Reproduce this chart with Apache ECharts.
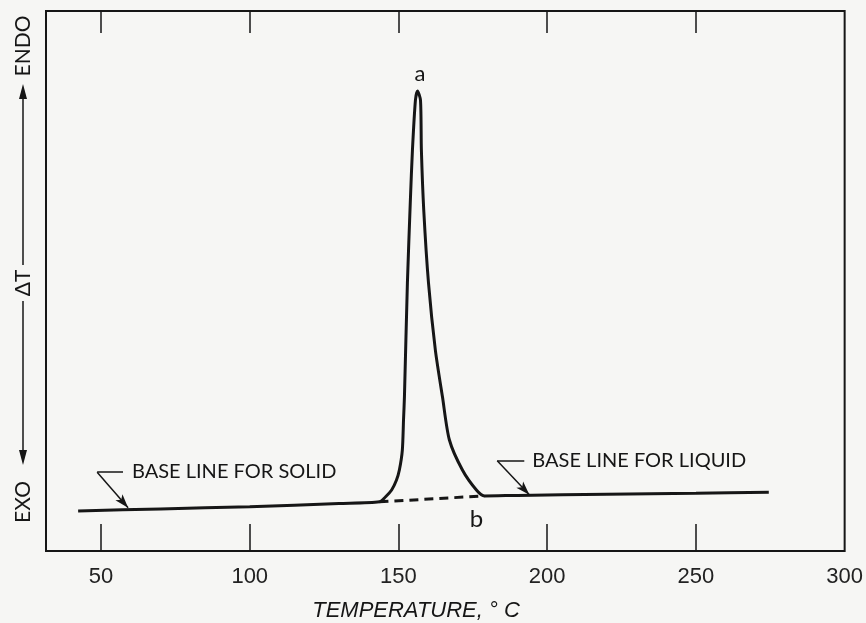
<!DOCTYPE html>
<html>
<head>
<meta charset="UTF-8">
<title>DTA curve</title>
<style>
    html, body { margin: 0; padding: 0; background: #f6f6f4; }
    #chart { width: 866px; height: 623px; }
</style>
</head>
<body>
<div id="chart"></div>
<script src="https://cdn.jsdelivr.net/npm/echarts@6/dist/echarts.min.js"></script>
<script>
// temperature in °C, delta T in arbitrary units (0 = bottom of frame, 100 = top)
const curveTemp = [42.3, 70, 100, 130, 143.6, 145.6, 147.7, 149.3, 150.3, 151.3, 151.7, 152.0, 153.0, 154.0, 154.7, 155.7, 156.4, 157.4, 157.7, 158.5, 160.1, 162.4, 164.8, 167.1, 171.5, 176.2, 178.9, 190, 220, 250, 274.5];
const curveDT   = [7.4, 7.8, 8.2, 8.8, 9.1, 10.0, 11.3, 13.1, 15.0, 18.7, 24.3, 28.5, 49.6, 65.0, 74.3, 83.5, 85.2, 83.5, 74.3, 63.1, 49.6, 37.2, 28.5, 20.6, 15.0, 11.3, 10.2, 10.3, 10.5, 10.7, 10.9];

// extrapolated base line under the peak (a -> b)
const dashTemp = [143.6, 178.9];
const dashDT   = [9.1, 10.2];

const tickValues  = [50, 100, 150, 200, 250];
const labelValues = [50, 100, 150, 200, 250, 300];

// leader arrows: [corner, text end, arrow tip]
const solidLeader  = [[48.7, 14.6], [57.4, 14.6], [59.1, 8.0]];
const liquidLeader = [[183.2, 16.7], [192.3, 16.7], [194.0, 10.4]];

const notes = [
    { text: 'BASE LINE FOR SOLID',  at: [60.4, 14.8], align: 'left', size: 20 },
    { text: 'BASE LINE FOR LIQUID', at: [195.0, 16.7], align: 'left', size: 20 },
    { text: 'a', at: [157.2, 88.3], align: 'center', size: 22 },
    { text: 'b', at: [176.2, 5.9], align: 'center', size: 24 }
];

const ink = '#161616';
const numFont = '"Liberation Sans", Arial, sans-serif';

const chart = echarts.init(document.getElementById('chart'));

function leaderLines(pts) {
    return [
        [{ coord: pts[0], symbol: 'none' }, { coord: pts[1], symbol: 'none' }],
        [{ coord: pts[0], symbol: 'none' }, { coord: pts[2], symbol: 'arrow', symbolSize: [7, 14] }]
    ];
}

const option = {
    backgroundColor: '#f6f6f4',
    animation: false,
    grid: { left: 46, right: 21, top: 11, bottom: 72, show: true, borderColor: ink, borderWidth: 2, backgroundColor: 'transparent' },
    xAxis: [{
        type: 'value', min: 31.5, max: 300, position: 'bottom',
        axisLine: { show: false },
        splitLine: { show: false },
        axisTick: { inside: true, length: 27, lineStyle: { color: ink, width: 1.5 }, customValues: tickValues },
        axisLabel: { customValues: labelValues, margin: 15, color: '#222', fontSize: 22, fontFamily: numFont }
    }, {
        type: 'value', min: 31.5, max: 300, position: 'top',
        axisLine: { show: false },
        splitLine: { show: false },
        axisTick: { inside: true, length: 22, lineStyle: { color: ink, width: 1.5 }, customValues: tickValues },
        axisLabel: { show: false }
    }],
    yAxis: { type: 'value', min: 0, max: 100, show: false },
    series: [{
        type: 'line',
        data: curveTemp.map((t, i) => [t, curveDT[i]]),
        showSymbol: false,
        smooth: 0.25,
        lineStyle: { color: ink, width: 3 },
        markLine: {
            silent: true,
            symbol: 'none',
            label: { show: false },
            lineStyle: { color: ink, width: 1.5, type: 'solid' },
            data: leaderLines(solidLeader).concat(leaderLines(liquidLeader))
        }
    }, {
        type: 'line',
        data: dashTemp.map((t, i) => [t, dashDT[i]]),
        showSymbol: false,
        lineStyle: { color: ink, width: 3, type: [9, 6] }
    }]
};

chart.setOption(option);

// text notes and the ΔT arrows on the left
const graphics = notes.map(n => {
    const p = chart.convertToPixel({ gridIndex: 0 }, n.at);
    return {
        type: 'text', x: p[0], y: p[1],
        style: { text: n.text, fill: ink, font: n.size + 'px "Lato", "Noto Sans", sans-serif', textAlign: n.align, textVerticalAlign: 'middle' }
    };
});

const axisX = 23;
const sideFont = '21px "Lato", "Noto Sans", sans-serif';
graphics.push(
    { type: 'text', x: axisX, y: 46, rotation: Math.PI / 2, style: { text: 'ENDO', fill: ink, font: sideFont, textAlign: 'center', textVerticalAlign: 'middle' } },
    { type: 'text', x: axisX, y: 283, rotation: Math.PI / 2, style: { text: 'ΔT', fill: ink, font: sideFont, textAlign: 'center', textVerticalAlign: 'middle' } },
    { type: 'text', x: axisX, y: 502, rotation: Math.PI / 2, style: { text: 'EXO', fill: ink, font: sideFont, textAlign: 'center', textVerticalAlign: 'middle' } },
    { type: 'line', shape: { x1: axisX, y1: 95, x2: axisX, y2: 265 }, style: { stroke: ink, lineWidth: 1.5 } },
    { type: 'line', shape: { x1: axisX, y1: 301, x2: axisX, y2: 455 }, style: { stroke: ink, lineWidth: 1.5 } },
    { type: 'polygon', shape: { points: [[axisX, 84], [axisX - 4, 99], [axisX + 4, 99]] }, style: { fill: ink } },
    { type: 'polygon', shape: { points: [[axisX, 465], [axisX - 4, 450], [axisX + 4, 450]] }, style: { fill: ink } },
    { type: 'text', x: 416, y: 611, style: { text: 'TEMPERATURE, ° C', fill: ink, font: 'italic 22px ' + numFont, textAlign: 'center', textVerticalAlign: 'middle' } }
);

chart.setOption({ graphic: graphics });
</script>
</body>
</html>
